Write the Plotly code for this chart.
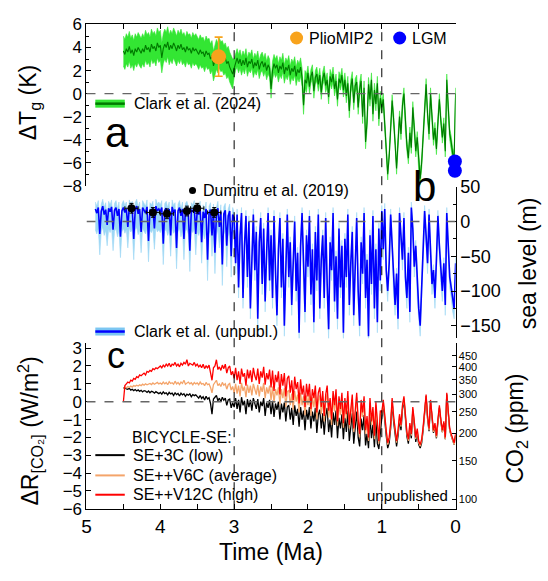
import numpy as np
import plotly.graph_objects as go

# ---------------------------------------------------------------- data
# Global temperature anomaly (K), 4.50 -> 0.00 Ma every 0.02 Ma
dT = [
    3.7, 3.4, 3.9, 3.6, 4.1, 3.5, 3.8, 3.3, 3.9, 3.6, 4.0, 3.7, 3.5, 3.9, 3.6, 4.2, 3.8, 4.0, 3.6, 4.3, 3.9, 4.1, 3.7, 4.4, 4.0,
    4.2, 3.1, 3.9, 4.3, 4.0, 4.5, 3.8, 4.2, 3.9, 4.4, 4.1, 3.7, 4.2, 3.9, 4.3, 3.8, 4.0, 3.6, 4.1, 3.8, 3.9, 3.5, 4.0, 3.7, 3.9,
    3.7, 3.4, 3.8, 3.5, 3.6, 3.2, 3.7, 3.4, 3.5, 3.0, 3.3, 2.4, 2.9, 3.4, 3.1, 3.5, 3.2, 3.3, 2.9, 3.1, 2.6, 2.8, 2.3, 2.0, 1.7,
    2.2, 2.8, 3.1, 2.6, 3.0, 2.4, 2.9, 2.5, 3.1, 2.3, 2.8, 2.6, 3.0, 2.2, 2.7, 2.4, 2.9, 2.1, 2.6, 2.8, 2.3, 2.7, 2.0, 2.5, 2.2,
    0.4, 2.0, 2.6, 2.2, 2.5, 1.8, 2.4, 2.1, 2.7, 1.7, 2.3, 2.0, 2.5, 1.6, 2.2, 1.9, 2.4, 1.5, 2.1, 1.8, 2.3, 1.4, -1.0, 1.2, 0.9,
    1.8, 0.6, 1.5, 1.9, 0.2, 1.4, 1.7, 0.8, 1.6, 0.1, 1.3, 1.8, 0.7, 1.2, -0.3, 1.5, 1.0, 1.7, 0.4, 1.1, -0.5, 1.3, 0.9, 1.6, 0.3,
    1.2, -0.2, 0.9, -1.5, 0.6, 1.3, -0.8, 0.7, 1.0, -1.2, 0.4, 1.1, -2.0, 0.5, -4.2, -2.5, 0.8, -0.5, 1.2, -1.8, 0.3, -0.9, 0.9, -2.2, -0.4,
    -1.2, -0.5, -2.5, -4.8, -7.0, -5.5, -3.0, -0.6, -2.2, -4.0, -6.5, -4.2, -2.0, -3.5, -1.0, 0.0, -2.8, -4.5, -5.6, -3.4, -4.7, -1.2, -3.0, -5.0, -3.8,
    -6.2, -7.4, -6.0, -4.0, -1.5, 0.8, -1.8, -3.5, 0.0, -2.0, -4.0, -3.0, -4.8, -2.5, -0.5, -2.4, -3.8, -2.6, -5.0, 1.2, -1.5, -3.5, -4.2, -5.2, -5.6, 0.0,
]
# 1-sigma of the temperature stack for each 0.5-Ma block (last block includes 0 Ma)
dT_sigma_blocks = [1.3, 1.3, 1.3, 0.8, 0.8, 0.6, 0.6, 0.5, 0.5]

# Relative sea level (m), 4.88 -> 0.00 Ma every 0.02 Ma
sea_level = [
    18, 12, 20, -18, 15, 22, 10, 17, -5, 19, 14, 21, -12, 16, 20, 8, 18, -22, 15,
    20, 13, 18, -8, 21, 15, 19, -25, 17, 22, 11, 18, -15, 20, 16, 12, 21, -28, 17, 14, 19, -10, 22, 15, 18,
    14, 20, -32, 16, 19, 10, 18, -20, 21, 13, 17, -38, 15, 20, 8, 18, -25, 16, 19, 11, -42, 17, 14, 20, -18,
    16, 10, 19, -30, 14, 5, 18, -55, 12, 17, -20, 15, -45, 10, 19, -8, 14, -62, 11, 16, -35, 8, 15, -50, 10,
    5, -60, 10, -95, -20, 12, -110, -35, 8, -80, 0, -125, -40, 10, -70, -15, -140, -30, 5, -90, -10, -115, -45, 12, -85,
    -20, -110, 8, -70, -135, -40, 5, -95, -25, -150, -50, 10, -80, -30, -120, -60, 0, -100, -45, -160, -35, 12, -75, -130, -20,
    -65, 8, -105, -40, -145, -15, -85, 10, -125, -55, -20, -110, 5, -90, -155, -30, -70, 12, -115, -50, -140, -10, -95, -35, -160,
    -25, -80, 10, -120, -60, -15, -135, -45, 5, -100, -150, -30, -75, 12, -110, -55, -165, -20, -90, 8, -125, -40, -145, -10, -85,
    15, -40, 18, -70, -100, -60, 10, -30, -90, -120, -75, -140, 12, -20, -55, 5, -80, -110, -45, -130, 20, -10, -65, -35, -95,
    -125, -150, -85, -40, 15, -20, -60, 10, -45, -90, -70, -110, -55, 8, -35, -75, -100, -60, -120, 12, -30, -80, -95, -115, -125, -60,
]
# Uncertainty envelope of sea level (m): [above, below] before / after 3 Ma
sl_err_pliocene = [10, 30]
sl_err_pleistocene = [8, 15]

# CO2 radiative forcing (W/m2), 4.50 -> 0.00 Ma every 0.02 Ma
dR_high = [
    0.0, 0.9, 1.0, 1.1, 1.05, 1.2, 1.15, 1.3, 1.25, 1.4, 1.35, 1.5, 1.45, 1.55, 1.6, 1.5, 1.7, 1.65, 1.75, 1.7, 1.85, 1.8, 1.9, 1.85, 1.95,
    2.0, 1.9, 2.05, 1.95, 2.1, 2.0, 2.15, 1.95, 2.1, 2.05, 2.2, 2.0, 2.1, 1.95, 2.15, 2.05, 2.2, 2.1, 2.35, 2.0, 2.15, 2.1, 2.05, 2.2, 2.0,
    2.1, 1.95, 2.05, 1.9, 2.1, 1.85, 2.0, 1.9, 2.05, 1.7, 1.2, 1.9, 2.0, 2.35, 1.8, 1.95, 1.75, 2.05, 1.85, 2.1, 1.6, 1.9, 2.0, 1.5, 1.7,
    1.3, 1.9, 1.2, 1.7, 1.0, 1.85, 1.4, 1.6, 0.9, 1.8, 1.3, 1.75, 1.1, 1.9, 1.45, 1.2, 1.85, 1.0, 1.7, 1.35, 1.95, 0.95, 1.6, 1.25, 1.8,
    0.8, 1.75, 0.6, 1.5, 1.1, 1.7, 0.4, 1.55, 0.9, 1.6, 0.3, 1.3, 1.45, 0.5, 1.2, 0.1, 1.4, 0.7, 1.1, -0.1, 1.25, 0.4, 0.9, -0.3, 1.0,
    0.3, 1.0, -0.4, 0.7, 0.2, 0.9, -0.6, 0.5, 0.8, -0.3, 0.6, -0.8, 0.4, 0.9, -0.5, 0.2, -1.0, 0.6, -0.2, 0.7, -1.1, 0.3, -0.4, 0.5, -1.2,
    0.2, -0.7, 0.6, -1.3, -0.2, 0.4, -1.5, -0.4, 0.5, -1.0, -1.8, 0.1, -0.6, 0.3, -1.6, -0.8, -2.0, 0.2, -1.1, -0.3, -1.9, 0.0, -1.4, -2.2, -0.5,
    -0.6, 0.1, -0.9, -1.6, -2.3, -2.0, -1.2, 0.2, -0.8, -1.5, -2.2, -1.6, -0.7, -1.3, -0.2, 0.3, -1.0, -1.7, -2.1, -1.2, -1.8, -0.3, -1.1, -2.0, -1.5,
    -2.2, -2.4, -2.1, -1.4, -0.5, 0.4, -0.8, -1.5, 0.1, -0.9, -1.6, -1.2, -1.9, -1.0, -0.2, -1.0, -1.6, -1.1, -2.0, 0.5, -0.7, -1.5, -1.8, -2.1, -2.3, -1.8,
]
dR_avg = [
    0.75, 0.8, 0.78, 0.85, 0.8, 0.88, 0.82, 0.9, 0.86, 0.92, 0.88, 0.95, 0.9, 0.98, 0.92, 1.0, 0.95, 0.98, 1.02, 0.96, 1.05, 0.98, 1.02, 1.08, 1.0,
    1.05, 0.98, 1.1, 1.0, 1.08, 0.95, 1.12, 1.02, 1.06, 0.98, 1.15, 1.0, 1.08, 0.96, 1.1, 1.02, 1.2, 0.98, 1.05, 1.1, 1.0, 1.06, 0.95, 1.08, 1.0,
    1.05, 0.95, 1.1, 0.98, 1.02, 0.9, 1.08, 0.95, 1.0, 0.8, 0.5, 0.95, 1.05, 1.2, 0.9, 1.0, 0.85, 1.08, 0.92, 1.0, 0.7, 0.95, 1.02, 0.65, 0.85,
    0.5, 1.0, 0.45, 0.9, 0.3, 1.05, 0.6, 0.85, 0.25, 0.95, 0.5, 0.9, 0.35, 1.0, 0.65, 0.4, 0.95, 0.3, 0.85, 0.55, 1.05, 0.2, 0.8, 0.45, 0.9,
    0.1, 0.85, -0.05, 0.7, 0.35, 0.8, -0.15, 0.7, 0.2, 0.75, -0.3, 0.55, 0.65, -0.2, 0.45, -0.45, 0.6, 0.0, 0.4, -0.6, 0.5, -0.2, 0.3, -0.75, 0.35,
    -0.2, 0.5, -0.8, 0.25, -0.3, 0.45, -1.0, 0.05, 0.35, -0.7, 0.15, -1.1, 0.0, 0.45, -0.9, -0.2, -1.3, 0.2, -0.55, 0.3, -1.35, -0.1, -0.75, 0.1, -1.45,
    -0.1, -0.95, 0.3, -1.5, -0.5, 0.15, -1.7, -0.65, 0.25, -1.25, -2.0, -0.15, -0.85, 0.05, -1.8, -1.0, -2.2, -0.05, -1.3, -0.5, -2.1, -0.2, -1.6, -2.35, -0.7,
    -0.7, 0.0, -1.0, -1.7, -2.4, -2.1, -1.3, 0.1, -0.9, -1.6, -2.3, -1.7, -0.8, -1.4, -0.3, 0.2, -1.1, -1.8, -2.2, -1.3, -1.9, -0.4, -1.2, -2.1, -1.6,
    -2.3, -2.5, -2.2, -1.5, -0.6, 0.3, -0.9, -1.6, 0.0, -1.0, -1.7, -1.3, -2.0, -1.1, -0.3, -1.1, -1.7, -1.2, -2.1, 0.4, -0.8, -1.6, -1.9, -2.2, -2.4, -1.9,
]
dR_low = [
    0.75, 0.8, 0.72, 0.7, 0.75, 0.65, 0.7, 0.62, 0.68, 0.6, 0.66, 0.58, 0.64, 0.55, 0.62, 0.6, 0.52, 0.6, 0.5, 0.58, 0.55, 0.48, 0.56, 0.5, 0.45,
    0.52, 0.42, 0.55, 0.45, 0.5, 0.38, 0.52, 0.44, 0.48, 0.35, 0.5, 0.4, 0.46, 0.32, 0.48, 0.38, 0.45, 0.3, 0.42, 0.36, 0.44, 0.28, 0.4, 0.34, 0.38,
    0.3, 0.2, 0.35, 0.18, 0.28, 0.1, 0.3, 0.15, 0.22, -0.1, -0.7, 0.15, 0.25, 0.35, 0.05, 0.2, 0.0, 0.25, 0.08, 0.2, -0.2, 0.1, 0.15, -0.35, -0.05,
    -0.3, 0.2, -0.4, 0.1, -0.6, 0.25, -0.2, 0.05, -0.7, 0.15, -0.3, 0.1, -0.5, 0.2, -0.15, -0.4, 0.15, -0.6, 0.0, -0.25, 0.2, -0.8, -0.05, -0.35, 0.1,
    -0.7, 0.05, -0.85, -0.1, -0.45, 0.0, -1.0, -0.1, -0.6, -0.05, -1.1, -0.3, -0.2, -1.0, -0.35, -1.3, -0.2, -0.8, -0.4, -1.4, -0.3, -1.0, -0.5, -1.6, -0.45,
    -1.0, -0.3, -1.5, -0.55, -1.1, -0.35, -1.75, -0.75, -0.45, -1.5, -0.65, -1.85, -0.8, -0.35, -1.7, -1.0, -2.0, -0.6, -1.3, -0.5, -2.05, -0.9, -1.5, -0.7, -2.1,
    -0.9, -1.7, -0.5, -2.2, -1.3, -0.65, -2.35, -1.45, -0.55, -2.0, -2.5, -0.95, -1.6, -0.75, -2.45, -1.8, -2.6, -0.85, -2.05, -1.3, -2.55, -1.0, -2.35, -2.65, -1.5,
    -0.9, -0.15, -1.2, -1.9, -2.6, -2.3, -1.5, -0.05, -1.1, -1.8, -2.5, -1.9, -1.0, -1.6, -0.45, 0.1, -1.25, -1.95, -2.35, -1.45, -2.05, -0.5, -1.3, -2.25, -1.75,
    -2.4, -2.6, -2.3, -1.6, -0.65, 0.3, -0.95, -1.65, 0.0, -1.05, -1.75, -1.35, -2.05, -1.15, -0.35, -1.1, -1.7, -1.2, -2.1, 0.4, -0.8, -1.6, -1.9, -2.2, -2.4, -1.9,
]

# Model/proxy reference points
plio_age, plio_dT, plio_err = [3.21], [3.2], [1.7]
lgm_age, lgm_dT = [0.01, 0.01], [-5.9, -6.7]
dumitru_age = [4.39, 4.10, 3.91, 3.64, 3.50, 3.27]
dumitru_sl = [19, 13, 11, 15, 19, 13]

x_ticks = [5, 4, 3, 2, 1, 0]
co2_ticks = [100, 150, 200, 250, 300, 350, 400, 450]
sl_ticks = [50, 0, -50, -100, -150]

# ---------------------------------------------------------------- derived arrays
dT = np.array(dT)
t_a = np.linspace(4.50, 0.0, len(dT))
sea_level = np.array(sea_level, dtype=float)
t_b = np.linspace(4.88, 0.0, len(sea_level))
t_c = np.linspace(4.50, 0.0, len(dR_high))

block = np.minimum(((4.50 - t_a) / 0.5 + 1e-6).astype(int), len(dT_sigma_blocks) - 1)
dT_sig = np.array(dT_sigma_blocks)[block]

sl_hi = np.where(t_b > 3.0, sl_err_pliocene[0], sl_err_pleistocene[0])
sl_lo = np.where(t_b > 3.0, sl_err_pliocene[1], sl_err_pleistocene[1])

# forcing <-> CO2 (ppm), dR = 5.35 ln(C / 278)
C0 = 278.0
R_RANGE = [-6.02, 3.28]
co2_log_range = [np.log10(C0 * np.exp(r / 5.35)) for r in R_RANGE]

# ---------------------------------------------------------------- layout geometry
W, H = 548, 581
FONT = "Liberation Sans, Arial, Helvetica, sans-serif"


def px(x):
    return x / W


def py(y):
    return 1 - y / H


X_DOM = [px(83), px(459)]

fig = go.Figure()

# panel a: temperature band + line
fig.add_trace(go.Scatter(
    x=np.concatenate([t_a, t_a[::-1]]),
    y=np.concatenate([dT + dT_sig, (dT - dT_sig)[::-1]]),
    fill="toself", fillcolor="#33e633", line=dict(width=0.6, color="#33e633"),
    xaxis="x2", yaxis="y", hoverinfo="skip", showlegend=False))
fig.add_trace(go.Scatter(x=t_a, y=dT, mode="lines", line=dict(color="#007a00", width=1.1),
                         xaxis="x2", yaxis="y", showlegend=False))
fig.add_trace(go.Scatter(
    x=plio_age, y=plio_dT, mode="markers",
    marker=dict(size=15, color="#F8A31C"),
    error_y=dict(type="data", array=plio_err, color="#F8A31C", thickness=1.6, width=4),
    xaxis="x2", yaxis="y", showlegend=False))
fig.add_trace(go.Scatter(x=lgm_age, y=lgm_dT, mode="markers",
                         marker=dict(size=14, color="#0000ff"), cliponaxis=False,
                         xaxis="x2", yaxis="y", showlegend=False))

# panel b: sea level band + line
fig.add_trace(go.Scatter(
    x=np.concatenate([t_b, t_b[::-1]]),
    y=np.concatenate([sea_level + sl_hi, (sea_level - sl_lo)[::-1]]),
    fill="toself", fillcolor="#9dd7f5", line=dict(width=0.6, color="#9dd7f5"),
    xaxis="x3", yaxis="y2", hoverinfo="skip", showlegend=False))
fig.add_trace(go.Scatter(x=t_b, y=sea_level, mode="lines", line=dict(color="#0000ff", width=1.6),
                         xaxis="x3", yaxis="y2", showlegend=False))
fig.add_trace(go.Scatter(
    x=dumitru_age, y=dumitru_sl, mode="markers",
    marker=dict(size=8, color="black"),
    error_y=dict(type="constant", value=7, color="black", thickness=1, width=2),
    error_x=dict(type="constant", value=0.09, color="black", thickness=1, width=2),
    xaxis="x3", yaxis="y2", showlegend=False))

# panel c: forcing scenarios
for vals, col in [(dR_low, "black"), (dR_avg, "#F4A46A"), (dR_high, "#ff0000")]:
    fig.add_trace(go.Scatter(x=t_c, y=vals, mode="lines", line=dict(color=col, width=1.3),
                             xaxis="x", yaxis="y3", showlegend=False))
# invisible trace so the CO2 axis is drawn
fig.add_trace(go.Scatter(x=[None], y=[None], xaxis="x", yaxis="y4", showlegend=False))

axis_common = dict(showgrid=False, zeroline=False, showline=True, linecolor="black",
                   linewidth=1, ticks="inside", tickcolor="black",
                   tickfont=dict(family=FONT, size=17, color="black"))
half_ma_minor = dict(dtick=0.5, ticks="inside", ticklen=5, tickcolor="black")

fig.update_layout(
    width=W, height=H, margin=dict(l=0, r=0, t=0, b=0),
    paper_bgcolor="white", plot_bgcolor="rgba(0,0,0,0)",
    font=dict(family=FONT, color="black"),
    xaxis=dict(domain=X_DOM, range=[5, 0], anchor="y3", tickvals=x_ticks,
               ticklen=5, minor=half_ma_minor,
               **{**axis_common, "tickfont": dict(family=FONT, size=19, color="black")}),
    xaxis2=dict(domain=X_DOM, range=[5, 0], anchor="y", side="top", matches="x",
                tickvals=x_ticks, showticklabels=False, ticklen=5, minor=half_ma_minor,
                **axis_common),
    xaxis3=dict(domain=X_DOM, range=[5, 0], anchor="y2", matches="x", visible=False),
    yaxis=dict(domain=[py(182), py(15)], range=[-8, 6], anchor="x2", dtick=2, ticklen=5,
               minor=dict(dtick=1, ticks="inside", ticklen=3, tickcolor="black"), **axis_common),
    yaxis2=dict(domain=[py(340), py(183)], range=[-168, 50], anchor="x3", side="right",
                tickvals=sl_ticks, ticklen=5,
                minor=dict(dtick=25, ticks="inside", ticklen=3, tickcolor="black"),
                **{**axis_common, "tickfont": dict(family=FONT, size=18, color="black")}),
    yaxis3=dict(domain=[py(517), py(345)], range=R_RANGE, anchor="x", dtick=1, ticklen=5,
                **axis_common),
    yaxis4=dict(overlaying="y3", anchor="x", side="right", type="log", range=co2_log_range,
                tickvals=co2_ticks, ticktext=[str(v) for v in co2_ticks], ticklen=4,
                **{**axis_common, "tickfont": dict(family=FONT, size=11, color="black")}),
)

# zero lines and time markers
shapes = [
    dict(type="line", xref="x", yref="y", x0=5, x1=0, y0=0, y1=0,
         line=dict(color="#666666", width=1.4, dash="dash"), layer="above"),
    dict(type="line", xref="x", yref="y2", x0=5, x1=0, y0=0, y1=0,
         line=dict(color="#666666", width=1.4, dash="dash"), layer="above"),
    dict(type="line", xref="x", yref="y3", x0=5, x1=0, y0=0, y1=0,
         line=dict(color="#666666", width=1.4, dash="dash"), layer="above"),
]
for tv in (3, 1):
    shapes.append(dict(type="line", xref="x", yref="paper", x0=tv, x1=tv,
                       y0=py(517), y1=py(15), line=dict(color="black", width=1, dash="dash"),
                       layer="above"))


def swatch(x0, x1, y, col, w):
    return dict(type="line", xref="paper", yref="paper", x0=px(x0), x1=px(x1),
                y0=py(y), y1=py(y), line=dict(color=col, width=w))


shapes += [
    swatch(92, 122, 97, "#33e633", 8), swatch(92, 122, 97, "#007a00", 2.5),
    swatch(92, 122, 333, "#7cc6f2", 8), swatch(92, 122, 333, "#0000ff", 2.5),
    swatch(92, 122, 461, "black", 2), swatch(92, 122, 482, "#F4A46A", 2),
    swatch(92, 122, 502, "#ff0000", 2),
]


def dot(cx, cy, r, col):
    return dict(type="circle", xref="paper", yref="paper", xsizemode="pixel",
                ysizemode="pixel", xanchor=px(cx), yanchor=py(cy),
                x0=-r, x1=r, y0=-r, y1=r, fillcolor=col, line=dict(width=0))


shapes += [dot(297, 29, 6.5, "#F8A31C"), dot(402, 29, 6.5, "#0000ff"), dot(191, 187, 3.5, "black")]
fig.update_layout(shapes=shapes)


def text(x, y, s, size=16, xanchor="left", angle=0):
    return dict(x=px(x), y=py(y), xref="paper", yref="paper", text=s, showarrow=False,
                xanchor=xanchor, yanchor="middle", textangle=angle,
                font=dict(family=FONT, size=size, color="black"))


annotations = [
    text(129, 97, "Clark et al. (2024)"),
    text(308, 29, "PlioMIP2"),
    text(413, 29, "LGM"),
    text(200, 187, "Dumitru et al. (2019)"),
    text(129, 333, "Clark et al. (unpubl.)"),
    text(127, 443, "BICYCLE-SE:"),
    text(128, 461, "SE+3C (low)"),
    text(128, 482, "SE++V6C (average)"),
    text(128, 502, "SE++V12C (high)"),
    text(453, 503, "unpublished", size=15, xanchor="right"),
    text(114, 127, "a", size=42, xanchor="center"),
    text(427, 183, "b", size=42, xanchor="center"),
    text(113, 358, "c", size=36, xanchor="center"),
    text(25, 96, "ΔT<sub>g</sub> (K)", size=23, xanchor="center", angle=-90),
    text(25, 436, "ΔR<sub>[CO₂]</sub> (W/m<sup>2</sup>)", size=23, xanchor="center", angle=-90),
    text(533, 262, "sea level (m)", size=23, xanchor="center", angle=-90),
    text(521, 433, "CO<sub>2</sub> (ppm)", size=23, xanchor="center", angle=-90),
    text(271, 561, "Time (Ma)", size=23, xanchor="center"),
]
fig.update_layout(annotations=annotations)

fig.write_html("out.html")
